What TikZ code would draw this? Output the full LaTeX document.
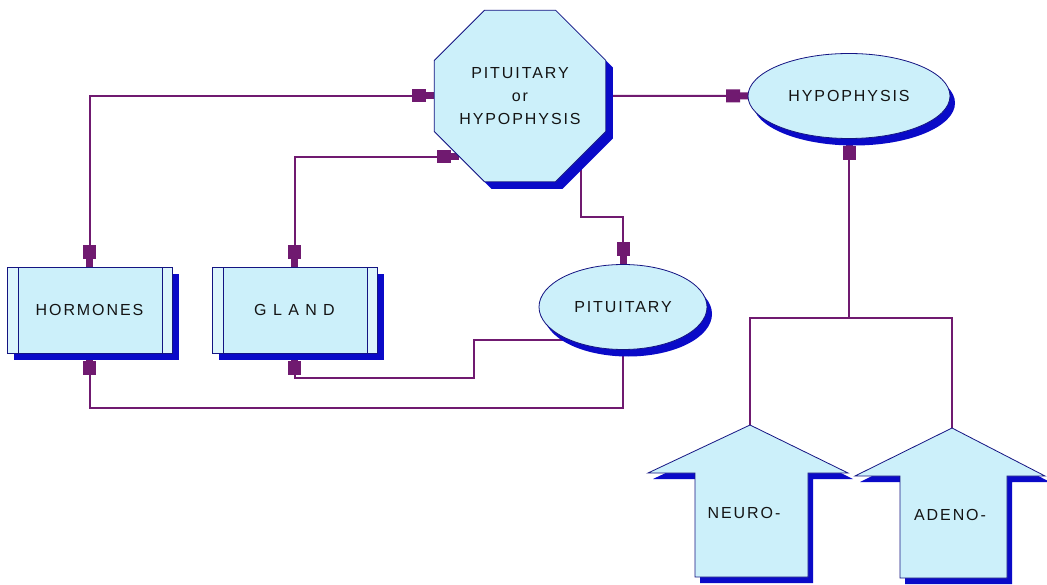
\documentclass[tikz,border=0pt]{standalone}
\usepackage{fontspec}
\setmainfont{Liberation Sans}[LetterSpace=12]
\usetikzlibrary{arrows.meta,shapes.geometric,shadows,calc}

\definecolor{cellfill}{RGB}{204,240,250}
\definecolor{stripfill}{RGB}{220,245,252}
\definecolor{edgecol}{RGB}{20,20,130}
\definecolor{shadowcol}{RGB}{10,10,200}
\definecolor{wirecol}{RGB}{112,26,112}
\definecolor{txtcol}{RGB}{20,20,20}

\pgfdeclarelayer{paper}
\pgfdeclarelayer{wires}
\pgfsetlayers{paper,wires,main}

% outlines of the two block arrows, relative to their tips
\newcommand\neuropath{-- ++(98,48) -- ++(-40,0) -- ++(0,104) -- ++(-113,0) -- ++(0,-104) -- ++(-47,0) -- cycle}
\newcommand\adenopath{-- ++(93,48) -- ++(-38,0) -- ++(0,102) -- ++(-107,0) -- ++(0,-102) -- ++(-45,0) -- cycle}

\begin{document}
\begin{tikzpicture}[x=1pt,y=-1pt,
  lbl/.style={font=\fontsize{16pt}{23pt}\selectfont, text=txtcol},
  shapebase/.style={draw=edgecol, line width=0.8pt, fill=cellfill, inner sep=0pt, outer sep=0pt, lbl},
  boxshape/.style={shapebase, rectangle, minimum width=165pt, minimum height=86pt,
    general shadow={fill=shadowcol, shadow xshift=7pt, shadow yshift=-7pt}},
  ovalshape/.style={shapebase, ellipse, minimum height=85pt,
    general shadow={fill=shadowcol, shadow xshift=5pt, shadow yshift=-7pt}},
  octshape/.style={shapebase, regular polygon, regular polygon sides=8, minimum size=183pt, align=center,
    general shadow={fill=shadowcol, shadow xshift=7pt, shadow yshift=-7pt}},
  blockarrow/.style={draw=edgecol, line width=0.8pt, fill=cellfill},
  wire/.style={draw=wirecol, line width=2pt},
  tipend/.style={-{Rectangle[length=14pt,width=13pt] Rectangle[length=8pt,width=7pt]}},
  tipboth/.style={{Rectangle[length=8pt,width=7pt] Rectangle[length=14pt,width=13pt]}-{Rectangle[length=14pt,width=13pt] Rectangle[length=8pt,width=7pt]}},
]
\begin{pgfonlayer}{paper}
  \fill[white] (0,0) rectangle (1047,585);
\end{pgfonlayer}
\useasboundingbox (0,0) rectangle (1047,585);

% main shapes
\node[octshape] (oct) at (520,96) {PITUITARY\\or\\HYPOPHYSIS};
\node[ovalshape, minimum width=202pt] (hyp) at (849,96) {HYPOPHYSIS};
\node[ovalshape, minimum width=168pt] (pit) at (623,307) {PITUITARY};
\node[boxshape] (horm) at (89.5,310) {HORMONES};
\node[boxshape] (gland) at (294.5,310) {G L A N D};

% side strips of the two process boxes
\foreach \b in {horm,gland} {
  \draw[edgecol, line width=0.8pt, fill=stripfill] (\b.north west) rectangle ($(\b.south west)+(11,0)$);
  \draw[edgecol, line width=0.8pt, fill=stripfill] ($(\b.north east)+(-10,0)$) rectangle (\b.south east);
}

% block arrows
\coordinate (ntip) at (750,425);
\coordinate (atip) at (952,428);
\fill[shadowcol] ($(ntip)+(5,6)$) \neuropath;
\path[blockarrow] (ntip) \neuropath;
\fill[shadowcol] ($(atip)+(5,6)$) \adenopath;
\path[blockarrow] (atip) \adenopath;
\node[lbl] (neurotxt) at (744,513) {NEURO-};
\node[lbl] (adenotxt) at (950,515) {ADENO-};

\coordinate (fork) at (849,318);

% connectors
\begin{pgfonlayer}{wires}
  \draw[wire, tipboth] (horm.north) |- (oct.west);
  \draw[wire, tipboth] (gland.north) |- (oct.225);
  \draw[wire, tipend] (oct.east) -- (hyp.west);
  \draw[wire, tipend] (oct.-45) -- ++(0,60) -| (pit.north);
  \draw[wire, tipend] (pit.211) -| (474,378) -| (gland.south);
  \draw[wire, tipend] (pit.south) -- ++(0,58) -| (horm.south);
  \draw[wire] (ntip) |- (fork) -| (atip);
  \draw[wire, tipend] (fork) -- (hyp.south);
\end{pgfonlayer}
\end{tikzpicture}
\end{document}
